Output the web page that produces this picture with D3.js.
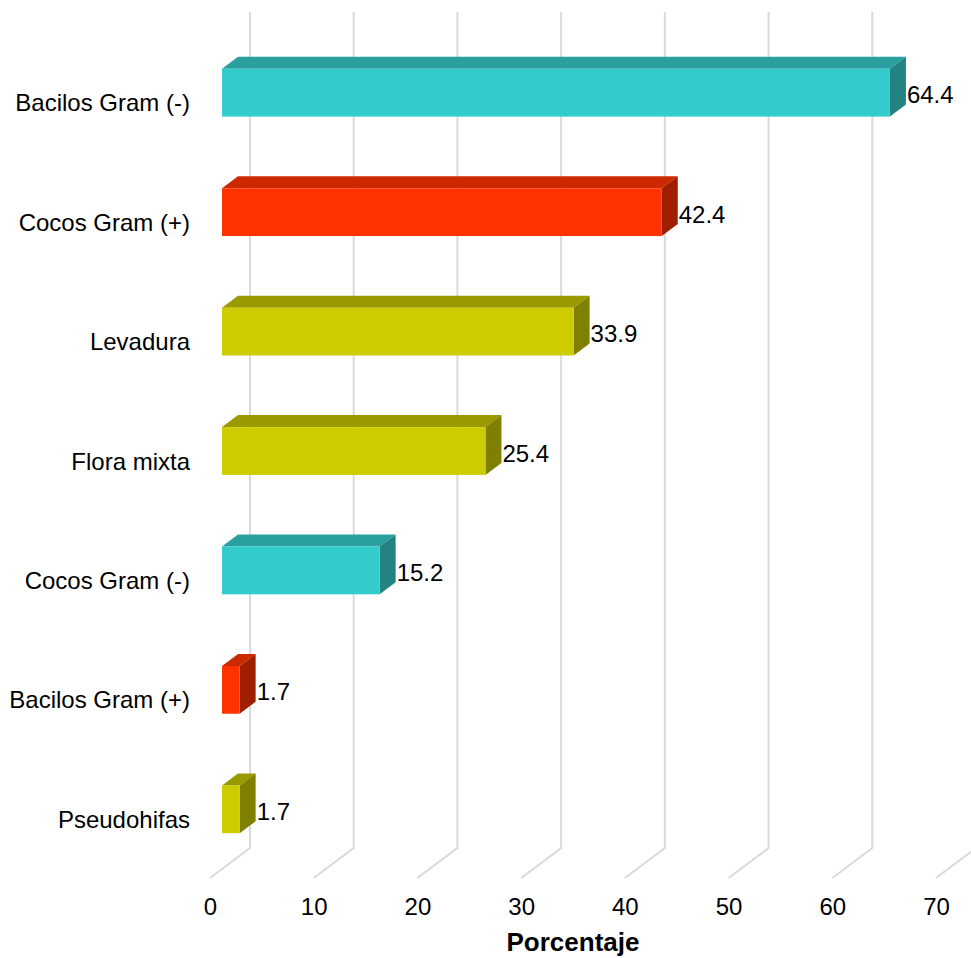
<!DOCTYPE html>
<html>
<head>
<meta charset="utf-8">
<script src="https://cdn.jsdelivr.net/npm/d3@7"></script>
<style>
  html, body { margin: 0; padding: 0; background: #fff; }
  svg { display: block; font-family: "Liberation Sans", Arial, sans-serif; }
</style>
</head>
<body>
<svg id="chart" width="971" height="958"></svg>
<script>
const categories = ["Bacilos Gram (-)", "Cocos Gram (+)", "Levadura", "Flora mixta", "Cocos Gram (-)", "Bacilos Gram (+)", "Pseudohifas"];
const values = [64.4, 42.4, 33.9, 25.4, 15.2, 1.7, 1.7];
const colorGroups = ["cyan", "red", "olive", "olive", "cyan", "red", "olive"];
const xTicks = [0, 10, 20, 30, 40, 50, 60, 70];
const xTitle = "Porcentaje";

const palette = {
  cyan:  { front: "#33CCCC", top: "#2A9F9F", side: "#238383" },
  red:   { front: "#FF3300", top: "#CC2900", side: "#9E2000" },
  olive: { front: "#CCCC00", top: "#999900", side: "#808000" }
};

const svg = d3.select("#chart");
const depthX = 40, depthY = -30;      // full depth of the 3D box
const barD0 = 0.3, barD1 = 0.7;       // bar position in depth

const x = d3.scaleLinear().domain([0, 70]).range([210, 936]);
const y = d3.scaleBand().domain(categories).range([42, 878]).paddingInner(0.6).paddingOuter(0.3);
const floorY = 878, topBackY = 12;

// gridlines: back wall verticals + floor diagonals
const grid = svg.append("g");
xTicks.forEach(t => {
  const fx = x(t);
  grid.append("path")
    .attr("d", `M${fx},${floorY} L${fx + depthX},${floorY + depthY} L${fx + depthX},${topBackY}`)
    .attr("fill", "none")
    .attr("stroke", "#D9D9D9")
    .attr("stroke-width", 2);
});

// bars
const bars = svg.append("g");
categories.forEach((c, i) => {
  const v = values[i];
  const col = palette[colorGroups[i]];
  const ox = depthX * barD0, oy = depthY * barD0;
  const dx = depthX * (barD1 - barD0), dy = depthY * (barD1 - barD0);
  const x0 = x(0) + ox, x1 = x(v) + ox;
  const y0 = y(c) + oy, y1 = y(c) + y.bandwidth() + oy;
  // top face
  bars.append("path")
    .attr("d", `M${x0},${y0} L${x0 + dx},${y0 + dy} L${x1 + dx},${y0 + dy} L${x1},${y0} Z`)
    .attr("fill", col.top);
  // side face
  bars.append("path")
    .attr("d", `M${x1},${y0} L${x1 + dx},${y0 + dy} L${x1 + dx},${y1 + dy} L${x1},${y1} Z`)
    .attr("fill", col.side);
  // front face
  bars.append("rect")
    .attr("x", x0).attr("y", y0)
    .attr("width", x1 - x0).attr("height", y1 - y0)
    .attr("fill", col.front);
  // value label
  svg.append("text")
    .attr("x", x1 + dx + 1)
    .attr("y", (y0 + y1) / 2 + 2)
    .attr("dominant-baseline", "central")
    .attr("font-size", 24)
    .attr("fill", "#000")
    .text(v.toFixed(1));
  // category label
  svg.append("text")
    .attr("x", 190)
    .attr("y", y(c) + y.bandwidth() / 2 + 1)
    .attr("text-anchor", "end")
    .attr("dominant-baseline", "central")
    .attr("font-size", 24)
    .attr("fill", "#000")
    .text(c);
});

// x axis tick labels
const axis = svg.append("g")
  .attr("transform", `translate(0, ${floorY})`)
  .call(d3.axisBottom(x).tickValues(xTicks).tickSize(0).tickPadding(20).tickFormat(d3.format("d")));
axis.select(".domain").remove();
axis.selectAll("text")
  .attr("font-size", 24)
  .attr("font-family", "Liberation Sans, Arial, sans-serif")
  .attr("fill", "#000");

svg.append("text")
  .attr("x", (x(0) + x(70)) / 2)
  .attr("y", 951)
  .attr("text-anchor", "middle")
  .attr("font-size", 26)
  .attr("font-weight", "bold")
  .attr("fill", "#000")
  .text(xTitle);
</script>
</body>
</html>
